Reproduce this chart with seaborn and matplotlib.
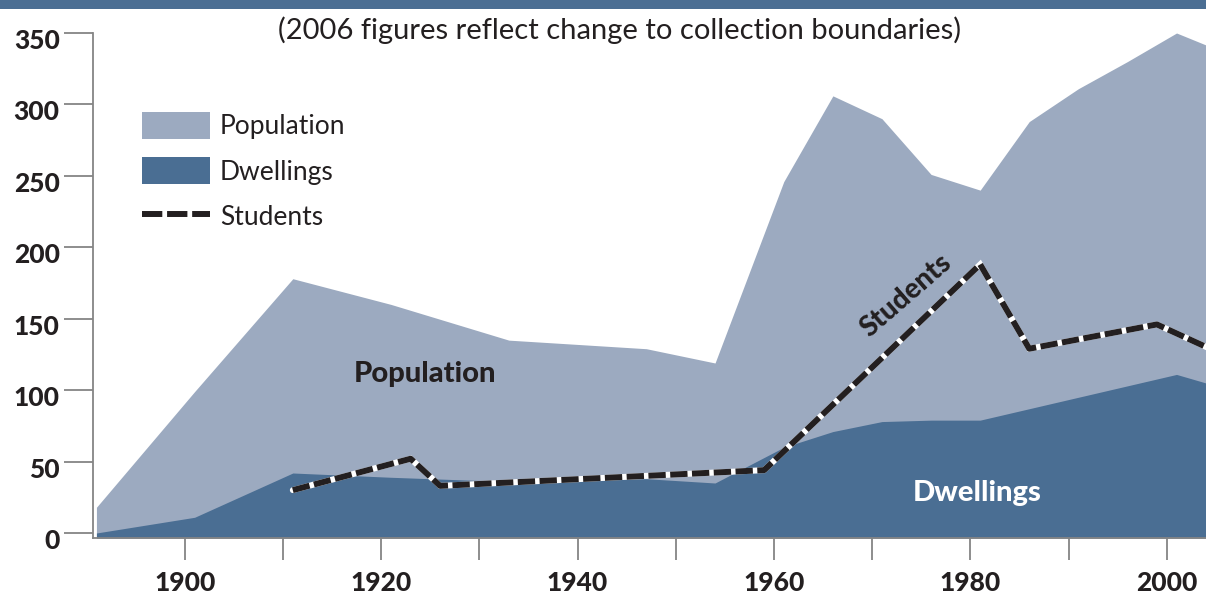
import numpy as np
import pandas as pd
import seaborn as sns
import matplotlib
matplotlib.use("Agg")
import matplotlib.pyplot as plt
from matplotlib.patches import Patch, Rectangle
from matplotlib.lines import Line2D
from matplotlib.transforms import ScaledTranslation

# ---------------- data ----------------
census_years = [1891, 1901, 1911, 1921, 1933, 1947, 1954, 1961, 1966, 1971, 1976, 1981, 1986, 1991, 1996, 2001, 2006]
population = [18, 99, 178, 160, 135, 129, 119, 246, 306, 290, 251, 240, 288, 311, 330, 350, 336]
dwellings = [0, 11, 42, 39, 36, 38, 35, 60, 71, 78, 79, 79, 87, 95, 103, 111, 101]

student_years = [1911, 1923, 1926, 1947, 1959, 1981, 1986, 1999, 2006]
students = [30, 52, 33, 40, 44, 188, 129, 146, 124]

y_ticks = [0, 50, 100, 150, 200, 250, 300, 350]
x_ticks = [1900, 1910, 1920, 1930, 1940, 1950, 1960, 1970, 1980, 1990, 2000]
x_labels = ["1900", "", "1920", "", "1940", "", "1960", "", "1980", "", "2000"]

subtitle = "(2006 figures reflect change to collection boundaries)"

# ---------------- style ----------------
POP_C = "#9caac0"
DWL_C = "#4a6e93"
TXT_C = "#231f20"
AX_C = "#858585"

sns.set_theme(style="white")
plt.rcParams["font.family"] = ["Lato", "DejaVu Sans"]

fig = plt.figure(figsize=(12.06, 5.99), dpi=100)
W, H = 1206, 599
ax = fig.add_axes([93 / W, 61 / H, 1 - 93 / W, (538 - 33) / H])

ymin = -3.5
ax.fill_between(census_years, population, ymin, color=POP_C, lw=0, zorder=1)
ax.fill_between(census_years, dwellings, ymin, color=DWL_C, lw=0, zorder=2)

df_s = pd.DataFrame({"year": student_years, "students": students})
sns.lineplot(data=df_s, x="year", y="students", ax=ax, color="white", lw=4.3,
             estimator=None, zorder=3, solid_joinstyle="miter")
sns.lineplot(data=df_s, x="year", y="students", ax=ax, color=TXT_C, lw=4.3,
             estimator=None, zorder=4, dashes=False)
ax.lines[-1].set_dashes((2.9, 0.75))
ax.lines[-1].set_dash_capstyle("butt")

ax.set_xlim(1890.65, 2004.0)
ax.set_ylim(ymin, 350)
ax.set_xlabel("")
ax.set_ylabel("")

TICK_W = "black"
ax.set_yticks(y_ticks)
ax.set_yticklabels([str(v) for v in y_ticks], fontsize=19, fontweight=TICK_W, color=TXT_C)
ax.set_xticks(x_ticks)
ax.set_xticklabels(x_labels, fontsize=19, fontweight=TICK_W, color=TXT_C)
ax.tick_params(axis="y", direction="out", length=21, width=1.3, color=AX_C, pad=3, left=True)
ax.tick_params(axis="x", direction="out", length=16, width=1.3, color=AX_C, pad=8, bottom=True)
for lab in ax.get_yticklabels():
    lab.set_transform(lab.get_transform() + ScaledTranslation(0, -6 / 100, fig.dpi_scale_trans))

for s in ["top", "right"]:
    ax.spines[s].set_visible(False)
for s in ["left", "bottom"]:
    ax.spines[s].set_color(AX_C)
    ax.spines[s].set_linewidth(1.3)
ax.set_facecolor("white")

# in-plot labels
ax.text(1924.5, 111, "Population", fontsize=21, fontweight=TICK_W, color=TXT_C,
        ha="center", va="center", zorder=5)
ax.text(1980.7, 28, "Dwellings", fontsize=21, fontweight=TICK_W, color="white",
        ha="center", va="center", zorder=5)
ax.text(1973.5, 166, "Students", fontsize=20, fontweight=TICK_W, color=TXT_C,
        ha="center", va="center", rotation=41, rotation_mode="anchor", zorder=5)

# legend
handles = [Patch(facecolor=POP_C, edgecolor="none"),
           Patch(facecolor=DWL_C, edgecolor="none"),
           Line2D([0], [0], color=TXT_C, lw=4.3, dashes=(3.4, 0.8), dash_capstyle="butt")]
leg = ax.legend(handles, ["Population", "Dwellings", "Students"],
                loc="upper left", bbox_to_anchor=(142 / W, 1 - 112 / H),
                bbox_transform=fig.transFigure, frameon=False, fontsize=19,
                handlelength=2.58, handleheight=1.2, handletextpad=0.38,
                labelspacing=0.68, borderpad=0, borderaxespad=0)
for t in leg.get_texts():
    t.set_color(TXT_C)

# top band and subtitle
fig.patches.append(Rectangle((0, 1 - 9 / H), 1, 9 / H, transform=fig.transFigure,
                             facecolor="#4b6e93", edgecolor="none", zorder=10))
fig.text(620 / W, 1 - 30 / H, subtitle, fontsize=21, color=TXT_C, ha="center", va="center")

fig.savefig("out.png", dpi=100)
